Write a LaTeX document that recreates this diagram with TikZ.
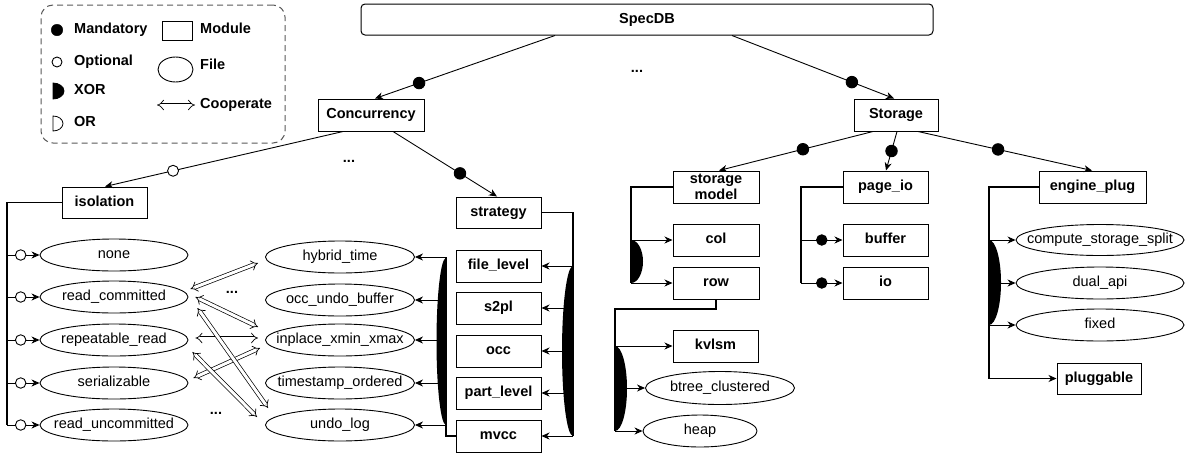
\documentclass[tikz,border=0pt]{standalone}
\usepackage{fontspec}
\setmainfont{Liberation Sans}
\usetikzlibrary{arrows.meta,shapes.geometric,calc}
\newcommand\fs{\fontsize{14.5}{17}\selectfont}
\tikzset{
  box/.style={draw, line width=1pt, minimum height=32pt, inner sep=0pt, font=\fs\bfseries, text height=10.5pt, text depth=3pt},
  file/.style={draw, ellipse, line width=0.9pt, inner sep=0pt, minimum height=32pt, label={[font=\fs, text height=10.5pt, text depth=3pt]center:#1}},
  conn/.style={line width=0.9pt, -{Stealth[length=8pt,width=7pt,inset=2.5pt]}},
  mand/.style={circle, fill=black, draw=black, inner sep=0pt, minimum size=11.5pt},
  sdot/.style={circle, fill=black, draw=black, inner sep=0pt, minimum size=10.5pt},
  opt/.style={circle, fill=white, draw=black, line width=0.9pt, inner sep=0pt, minimum size=11pt},
  tree/.style={line width=1.3pt},
  coop/.style={double, double distance=3pt, line width=0.7pt, {Implies[length=6pt]}-{Implies[length=6pt]}},
  ltext/.style={anchor=west, font=\fs\bfseries, inner sep=0pt, text height=10.5pt, text depth=3pt},
  dots/.style={anchor=base, font=\fs\bfseries, inner sep=0pt},
}
\begin{document}
\begin{tikzpicture}[x=1pt, y=-1pt]
\useasboundingbox (0,0) rectangle (1185,453);

% ---------- legend ----------
\node[draw=black!65, dashed, dash pattern=on 6pt off 4pt, line width=1pt, rounded corners=12pt,
      minimum width=244pt, minimum height=138pt, inner sep=0pt] (legend) at (163,74) {};
\node[mand] (lmand) at (57,30) {};
\node[ltext] (tmand) at (74,30) {Mandatory};
\node[opt, minimum size=10pt] (lopt) at (57,62) {};
\node[ltext] (topt) at (74,62) {Optional};
\filldraw[line width=0.8pt] (53,83) arc[start angle=90, end angle=-90, x radius=11pt, y radius=8pt] -- cycle;
\node[ltext] (txor) at (74,91) {XOR};
\draw[line width=0.8pt] (53,116) arc[start angle=90, end angle=-90, x radius=10pt, y radius=7.5pt] -- cycle;
\node[ltext] (tor) at (74,123) {OR};
\node[draw, line width=1pt, minimum width=30pt, minimum height=19pt, inner sep=0pt] (lmod) at (177,30.5) {};
\node[ltext] (tmod) at (200,30) {Module};
\node[draw, ellipse, line width=0.9pt, minimum width=35pt, minimum height=25pt, inner sep=0pt] (lfile) at (175.5,69.5) {};
\node[ltext] (tfile) at (200,66) {File};
\coordinate (lc1) at (157,105);
\coordinate (lc2) at (195,105);
\draw[coop] (lc1) -- (lc2);
\node[ltext] (tcoop) at (200,105) {Cooperate};

% ---------- top level ----------
\node[box, rounded corners=4pt, minimum width=572pt, minimum height=31pt] (specdb) at (647,19.5) {SpecDB};
\node[box, minimum width=106pt] (conc) at (371,115) {Concurrency};
\node[box, minimum width=84pt] (stor) at (896,115) {Storage};
\node[dots] (d1) at (637,72.5) {...};
\node[dots] (d2) at (349,162.5) {...};

% ---------- concurrency side ----------
\node[box, minimum width=85pt, minimum height=31pt] (iso) at (104.5,202.5) {isolation};
\node[box, minimum width=85pt, minimum height=31pt] (strat) at (498.5,212.5) {strategy};
\node[box, minimum width=85pt] (fl) at (498.5,266) {file\_level};
\node[box, minimum width=85pt] (s2pl) at (498.5,308) {s2pl};
\node[box, minimum width=85pt] (occ) at (498.5,351) {occ};
\node[box, minimum width=85pt] (pl) at (498.5,393) {part\_level};
\node[box, minimum width=85pt] (mvcc) at (498.5,436) {mvcc};

\node[file=none, minimum width=148pt] (none) at (114,255) {};
\node[file=read\_committed, minimum width=148pt] (rc) at (114,297) {};
\node[file=repeatable\_read, minimum width=148pt] (rr) at (114,340) {};
\node[file=serializable, minimum width=148pt] (ser) at (114,383) {};
\node[file=read\_uncommitted, minimum width=148pt] (ruc) at (114,425) {};

\node[file=hybrid\_time, minimum width=149pt] (hyb) at (340,257) {};
\node[file=occ\_undo\_buffer, minimum width=149pt] (oub) at (340,300) {};
\node[file=inplace\_xmin\_xmax, minimum width=149pt] (inp) at (340,340) {};
\node[file=timestamp\_ordered, minimum width=149pt] (tso) at (340,383) {};
\node[file=undo\_log, minimum width=149pt] (undo) at (340,425) {};
\node[dots] (d3) at (232,293.5) {...};
\node[dots] (d4) at (216,414.5) {...};

\draw[conn] ([xshift=-92pt]specdb.south) -- node[pos=0.755, mand]{} ([xshift=4pt]conc.north);
\draw[conn] ([xshift=85pt]specdb.south) -- node[pos=0.74, mand]{} ([xshift=-2pt]stor.north);
\draw[conn] ([xshift=-28pt]conc.south) -- node[pos=0.714, opt]{} ([xshift=0.5pt]iso.north);
\draw[conn] ([xshift=22pt]conc.south) -- node[pos=0.644, mand]{} ([xshift=-1.5pt]strat.north);

% isolation tree
\coordinate (isoL) at (7,202.5);
\draw[tree] (iso.west) -- (isoL) -- (isoL |- ruc);
\foreach \n in {none,rc,rr,ser,ruc}
  \draw[conn] (isoL |- \n) -- node[pos=0.42, opt, minimum size=10.5pt]{} (\n.west);

% strategy tree
\coordinate (stR) at (573,212.5);
\draw[tree] (strat.east) -- (stR) -- (stR |- mvcc);
\foreach \n in {fl,s2pl,occ,pl,mvcc}
  \draw[conn] (stR |- \n) -- (\n.east);
\fill (573,266) arc[start angle=90, end angle=270, x radius=11pt, y radius=85pt];

% mvcc tree
\coordinate (mvL) at (446,436);
\draw[tree] (mvcc.west) -- (mvL) -- (mvL |- hyb);
\foreach \n in {hyb,oub,inp,tso,undo}
  \draw[conn] (mvL |- \n) -- (\n.east);
\fill (446,258) arc[start angle=90, end angle=270, x radius=9.5pt, y radius=83.5pt];

% cooperate arrows
\draw[coop] ([shift={(2,-8)}]rc.east) -- ([shift={(-7,6)}]hyb.west);
\draw[coop] ([shift={(7,0)}]rc.east) -- ([shift={(-7,-13)}]inp.west);
\draw[coop] ([shift={(7,-2)}]rr.east) -- ([shift={(-7,-2)}]inp.west);
\draw[coop] ([shift={(5,-5)}]ser.east) -- ([shift={(-5,8)}]inp.west);
\draw[coop] ([shift={(4,12)}]rr.east) -- ([shift={(-8,-8)}]undo.west);
\draw[coop] ([shift={(9,11)}]rc.east) -- ([shift={(3,-17)}]undo.west);

% ---------- storage side ----------
\node[draw, line width=1pt, minimum width=86pt, minimum height=32pt, inner sep=0pt, font=\fs\bfseries, align=center] (sm) at (716,187) {storage\\[-1pt]model};
\node[box, minimum width=86pt] (col) at (716,240) {col};
\node[box, minimum width=86pt] (row) at (716,283) {row};
\node[box, minimum width=85pt] (kvlsm) at (715.5,346) {kvlsm};
\node[file=btree\_clustered, minimum width=149pt, minimum height=33pt] (btree) at (720,388) {};
\node[file=heap, minimum width=114pt] (heap) at (700,431) {};

\node[box, minimum width=85pt] (pio) at (885.5,187) {page\_io};
\node[box, minimum width=85pt] (buf) at (885.5,240) {buffer};
\node[box, minimum width=85pt] (io) at (885.5,283) {io};

\node[box, minimum width=107pt] (eng) at (1092.5,187) {engine\_plug};
\node[file=compute\_storage\_split, minimum width=168pt, minimum height=31pt] (css) at (1100,240) {};
\node[file=dual\_api, minimum width=168pt] (dual) at (1100,283) {};
\node[file=fixed, minimum width=168pt] (fixed) at (1100,325) {};
\node[box, minimum width=84pt, minimum height=31pt] (plug) at (1099,378.5) {pluggable};

\draw[conn] ([xshift=-23pt]stor.south) -- node[pos=0.455, mand]{} ([xshift=3pt]sm.north);
\draw[conn] ([xshift=1pt]stor.south) -- node[pos=0.5, mand]{} ([xshift=0.5pt]pio.north);
\draw[conn] ([xshift=22pt]stor.south) -- node[pos=0.46, mand]{} ([xshift=-0.5pt]eng.north);

% storage model tree
\coordinate (smL) at (631,187);
\draw[tree] (sm.west) -- (smL) -- (smL |- row);
\draw[conn] (smL |- col) -- (col.west);
\draw[conn] (smL |- row) -- (row.west);
\fill (631,240) arc[start angle=90, end angle=-90, x radius=12pt, y radius=21.5pt];

% row tree
\coordinate (rowB) at (716,309);
\coordinate (rowL) at (615,309);
\draw[tree] (row.south) -- (rowB) -- (rowL) -- (rowL |- heap);
\draw[conn] (rowL |- kvlsm) -- (kvlsm.west);
\draw[conn] (rowL |- btree) -- (btree.west);
\draw[conn] (rowL |- heap) -- (heap.west);
\fill (615,346) arc[start angle=90, end angle=-90, x radius=12pt, y radius=42.5pt];

% page_io tree
\coordinate (pioL) at (801,187);
\draw[tree] (pio.west) -- (pioL) -- (pioL |- io);
\draw[conn] (pioL |- buf) -- node[pos=0.5, sdot]{} (buf.west);
\draw[conn] (pioL |- io) -- node[pos=0.5, sdot]{} (io.west);

% engine_plug tree
\coordinate (engL) at (989,187);
\draw[tree] (eng.west) -- (engL) -- (engL |- plug);
\foreach \n in {css,dual,fixed,plug}
  \draw[conn] (engL |- \n) -- (\n.west);
\fill (989,240) arc[start angle=90, end angle=-90, x radius=12pt, y radius=42.5pt];
\end{tikzpicture}
\end{document}
